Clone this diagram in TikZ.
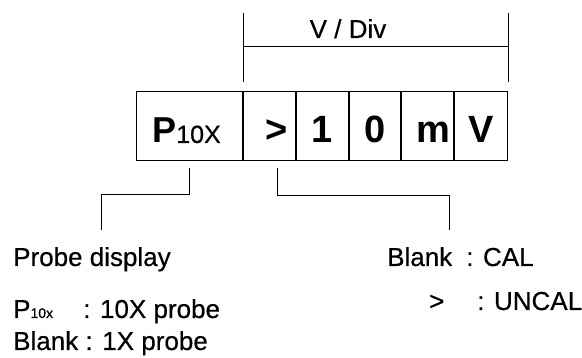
\documentclass[tikz,border=0pt]{standalone}
\usepackage{fontspec}
\setmainfont{Liberation Sans}[UprightFeatures={FakeBold=0.5}]
\usetikzlibrary{positioning}

\tikzset{
  cella/.style={draw, line width=1pt, minimum height=69pt, inner sep=0pt, text height=34pt, text depth=0pt},
  cifra/.style={font=\fontsize{38}{38}\selectfont\bfseries},
  testo/.style={font=\fontsize{26}{30}\selectfont, anchor=base west, inner sep=0pt},
  linea/.style={line width=1pt},
}

\begin{document}
\begin{tikzpicture}[x=1pt, y=-1pt]
  \useasboundingbox (0,0) rectangle (582,358);

  % riga del display
  \node[cella, minimum width=106pt, anchor=north west] (probe) at (136,91)
    {{\fontsize{36}{36}\selectfont\bfseries P}\fontsize{25}{25}\selectfont 10X\hspace*{6pt}};
  \node[cella, cifra, minimum width=52pt, right=0pt of probe] (gt) {\hspace*{14pt}>};
  \node[cella, cifra, minimum width=52pt, right=0pt of gt] (uno) {1};
  \node[cella, cifra, minimum width=51pt, right=0pt of uno] (zero) {0};
  \node[cella, cifra, minimum width=52pt, right=0pt of zero] (milli) {\hspace*{12pt}m};
  \node[cella, cifra, minimum width=53pt, right=0pt of milli] (volt) {V};

  % parentesi V / Div
  \draw[linea] ([yshift=9pt]gt.north west) -- ([yshift=78pt]gt.north west);
  \draw[linea] ([yshift=9pt]volt.north east) -- ([yshift=78pt]volt.north east);
  \draw[linea] ([yshift=44pt]gt.north west) coordinate (vsx) -- ([yshift=44pt]volt.north east) coordinate (vdx);
  \node[font=\fontsize{26}{30}\selectfont, anchor=base, inner sep=0pt] (vdiv) at (348,38) {V / Div};

  % richiami verso il basso
  \coordinate (sonda) at (101,230);
  \coordinate (cal) at (449,230);
  \draw[linea] ([yshift=-7pt]probe.south) -- ++(0,27) -| (sonda);
  \draw[linea] ([xshift=8pt, yshift=-7pt]gt.south) -- ++(0,28) -| (cal);

  % legenda sinistra
  \node[testo] (pdisp) at (13,266) {Probe display};
  \node[testo] (p10) at (13,318) {P{\fontsize{14}{14}\selectfont 10x}};
  \node[testo] (p10t) at (83,318) {: 10X probe};
  \node[testo] (blank1) at (13,350) {Blank : 1X probe};

  % legenda destra
  \node[testo] (blank2) at (387,266) {Blank};
  \node[testo] (calt) at (466,266) {: CAL};
  \node[testo] (gt2) at (429,310) {>};
  \node[testo] (uncal) at (477,310) {: UNCAL};
\end{tikzpicture}
\end{document}
